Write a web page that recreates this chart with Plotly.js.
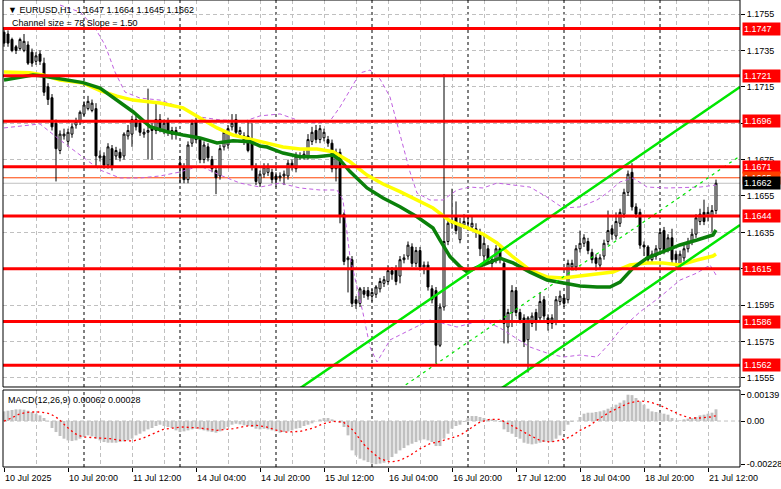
<!DOCTYPE html>
<html><head><meta charset="utf-8">
<script src="https://cdn.plot.ly/plotly-3.0.1.min.js"></script>
<style>html,body{margin:0;padding:0;background:#fff;}#chart{width:781px;height:489px;}</style>
</head><body><div id="chart"></div>
<script>
// ---- time axis ----
const tickBars = [0,16,32,48,64,80,96,112,128,144,160,176];
const tickText = ["10 Jul 2025","10 Jul 20:00","11 Jul 12:00","14 Jul 04:00","14 Jul 20:00","15 Jul 12:00","16 Jul 04:00","16 Jul 20:00","17 Jul 12:00","18 Jul 04:00","18 Jul 20:00","21 Jul 12:00"];
const gridBars = [8,24,40,56,72,88,104,120,136,152,168,184];
const daySeparators = [20,44,68,92,116,140,164];

// ---- EURUSD H1 candles ----
const open = [1.1745,1.1744,1.1741,1.1737,1.1736,1.1735,1.1738,1.1734,1.1729,1.1733,
1.1728,1.1715,1.1709,1.1695,1.1680,1.1688,1.1685,1.1689,1.1694,1.1696,
1.1700,1.1703,1.1702,1.1703,1.1676,1.1677,1.1672,1.1681,1.1677,1.1679,
1.1677,1.1688,1.1689,1.1697,1.1695,1.1689,1.1690,1.1693,1.1691,1.1697,
1.1691,1.1696,1.1689,1.1689,1.1673,1.1671,1.1664,1.1684,1.1696,1.1686,
1.1675,1.1682,1.1675,1.1669,1.1666,1.1682,1.1683,1.1693,1.1697,1.1689,
1.1688,1.1688,1.1685,1.1671,1.1662,1.1667,1.1668,1.1668,1.1666,1.1665,
1.1666,1.1666,1.1673,1.1670,1.1677,1.1677,1.1677,1.1685,1.1691,1.1686,
1.1687,1.1686,1.1684,1.1670,1.1679,1.1645,1.1620,1.1620,1.1598,1.1596,
1.1603,1.1603,1.1600,1.1601,1.1604,1.1607,1.1608,1.1614,1.1615,1.1611,
1.1620,1.1622,1.1627,1.1618,1.1625,1.1616,1.1617,1.1604,1.1603,1.1573,
1.1594,1.1630,1.1640,1.1644,1.1631,1.1639,1.1640,1.1638,1.1637,1.1635,
1.1622,1.1626,1.1618,1.1620,1.1626,1.1618,1.1583,1.1591,1.1603,1.1591,
1.1588,1.1576,1.1585,1.1591,1.1588,1.1598,1.1588,1.1585,1.1586,1.1597,
1.1599,1.1598,1.1616,1.1616,1.1626,1.1629,1.1630,1.1624,1.1621,1.1617,
1.1622,1.1630,1.1637,1.1633,1.1640,1.1645,1.1657,1.1668,1.1649,1.1646,
1.1628,1.1627,1.1620,1.1622,1.1626,1.1636,1.1626,1.1632,1.1623,1.1617,
1.1621,1.1626,1.1630,1.1634,1.1641,1.1646,1.1644,1.1644,1.1647];
const high = [1.1747,1.1746,1.1742,1.1738,1.1742,1.1744,1.1740,1.1736,1.1734,1.1735,
1.1731,1.1717,1.1711,1.1697,1.1691,1.1692,1.1692,1.1695,1.1698,1.1702,
1.1707,1.1710,1.1708,1.1706,1.1680,1.1679,1.1684,1.1683,1.1682,1.1681,
1.1690,1.1694,1.1699,1.1699,1.1696,1.1692,1.1714,1.1695,1.1706,1.1700,
1.1697,1.1698,1.1693,1.1693,1.1677,1.1673,1.1685,1.1697,1.1698,1.1687,
1.1685,1.1684,1.1677,1.1671,1.1683,1.1691,1.1694,1.1700,1.1700,1.1693,
1.1690,1.1696,1.1695,1.1673,1.1669,1.1673,1.1673,1.1670,1.1668,1.1668,
1.1669,1.1675,1.1675,1.1679,1.1679,1.1680,1.1689,1.1693,1.1694,1.1694,
1.1692,1.1688,1.1686,1.1681,1.1681,1.1646,1.1622,1.1622,1.1600,1.1605,
1.1605,1.1605,1.1604,1.1606,1.1610,1.1611,1.1617,1.1616,1.1617,1.1622,
1.1623,1.1630,1.1629,1.1627,1.1627,1.1619,1.1619,1.1606,1.1605,1.1596,
1.1722,1.1642,1.1659,1.1652,1.1643,1.1645,1.1644,1.1644,1.1640,1.1637,
1.1634,1.1628,1.1622,1.1628,1.1628,1.1620,1.1593,1.1606,1.1605,1.1593,
1.1590,1.1589,1.1591,1.1593,1.1602,1.1600,1.1590,1.1590,1.1600,1.1603,
1.1601,1.1620,1.1620,1.1628,1.1636,1.1634,1.1632,1.1626,1.1623,1.1623,
1.1631,1.1647,1.1639,1.1646,1.1648,1.1659,1.1669,1.1673,1.1651,1.1648,
1.1630,1.1628,1.1625,1.1628,1.1637,1.1638,1.1634,1.1637,1.1625,1.1625,
1.1628,1.1632,1.1637,1.1645,1.1648,1.1653,1.1649,1.1650,1.1664];
const low = [1.1737,1.1737,1.1734,1.1733,1.1735,1.1734,1.1727,1.1726,1.1727,1.1727,
1.1710,1.1705,1.1691,1.1663,1.1678,1.1686,1.1682,1.1687,1.1692,1.1694,
1.1699,1.1702,1.1701,1.1671,1.1674,1.1670,1.1670,1.1669,1.1675,1.1674,
1.1675,1.1686,1.1682,1.1691,1.1688,1.1687,1.1675,1.1675,1.1689,1.1690,
1.1689,1.1688,1.1686,1.1686,1.1662,1.1662,1.1662,1.1682,1.1684,1.1673,
1.1673,1.1674,1.1668,1.1656,1.1664,1.1680,1.1681,1.1691,1.1688,1.1687,
1.1683,1.1679,1.1669,1.1661,1.1660,1.1665,1.1666,1.1662,1.1660,1.1663,
1.1661,1.1664,1.1669,1.1668,1.1675,1.1675,1.1675,1.1683,1.1684,1.1684,
1.1685,1.1682,1.1668,1.1663,1.1640,1.1617,1.1602,1.1594,1.1593,1.1594,
1.1599,1.1598,1.1597,1.1599,1.1602,1.1605,1.1606,1.1609,1.1606,1.1607,
1.1618,1.1620,1.1616,1.1616,1.1614,1.1612,1.1603,1.1596,1.1563,1.1572,
1.1592,1.1628,1.1637,1.1634,1.1629,1.1637,1.1637,1.1636,1.1632,1.1622,
1.1617,1.1618,1.1615,1.1618,1.1618,1.1574,1.1574,1.1583,1.1589,1.1585,
1.1572,1.1558,1.1583,1.1581,1.1586,1.1587,1.1581,1.1582,1.1584,1.1595,
1.1594,1.1596,1.1614,1.1614,1.1624,1.1627,1.1623,1.1618,1.1614,1.1615,
1.1620,1.1628,1.1631,1.1631,1.1638,1.1643,1.1655,1.1647,1.1643,1.1626,
1.1622,1.1618,1.1618,1.1620,1.1624,1.1623,1.1624,1.1618,1.1616,1.1615,
1.1619,1.1624,1.1628,1.1632,1.1639,1.1639,1.1641,1.1635,1.1645];
const close = [1.1739,1.1739,1.1735,1.1735,1.1741,1.1740,1.1728,1.1728,1.1732,1.1729,
1.1712,1.1708,1.1693,1.1681,1.1689,1.1689,1.1690,1.1693,1.1696,1.1701,
1.1705,1.1707,1.1706,1.1677,1.1677,1.1672,1.1682,1.1671,1.1680,1.1676,
1.1689,1.1691,1.1697,1.1693,1.1690,1.1690,1.1691,1.1691,1.1697,1.1692,
1.1695,1.1690,1.1691,1.1691,1.1671,1.1664,1.1683,1.1695,1.1686,1.1675,
1.1683,1.1676,1.1670,1.1665,1.1681,1.1690,1.1692,1.1695,1.1690,1.1691,
1.1685,1.1680,1.1671,1.1663,1.1667,1.1671,1.1671,1.1664,1.1664,1.1666,
1.1667,1.1673,1.1671,1.1677,1.1677,1.1678,1.1686,1.1690,1.1686,1.1692,
1.1690,1.1684,1.1670,1.1679,1.1644,1.1619,1.1621,1.1596,1.1596,1.1604,
1.1601,1.1600,1.1602,1.1605,1.1608,1.1609,1.1614,1.1612,1.1608,1.1620,
1.1621,1.1628,1.1618,1.1625,1.1616,1.1617,1.1605,1.1598,1.1573,1.1594,
1.1630,1.1640,1.1641,1.1636,1.1640,1.1641,1.1640,1.1640,1.1635,1.1626,
1.1629,1.1620,1.1620,1.1626,1.1620,1.1585,1.1591,1.1603,1.1591,1.1587,
1.1575,1.1588,1.1589,1.1586,1.1597,1.1589,1.1585,1.1588,1.1598,1.1600,
1.1596,1.1618,1.1618,1.1626,1.1629,1.1632,1.1625,1.1620,1.1618,1.1621,
1.1629,1.1636,1.1634,1.1641,1.1646,1.1657,1.1667,1.1649,1.1645,1.1628,
1.1627,1.1620,1.1623,1.1626,1.1635,1.1625,1.1632,1.1620,1.1620,1.1623,
1.1626,1.1630,1.1634,1.1643,1.1645,1.1641,1.1646,1.1647,1.1662];

// ---- moving averages ----
const maYellowX = [0,6.5,9.75,14,19.75,24,28.25,32.25,39,44.75,49,53.25,57.25,61.5,65.75,69.75,74,78.25,82.25,86.5,90.75,94.75,99,103.25,107.25,111.5,115.75,119.75,123.25,127.25,131.5,135.75,139.75,144,148.25,152.25,156.5,160.75,164.75,169,173.25,177.25,178];
const maYellowY = [1.17231,1.17227,1.17215,1.17187,1.17171,1.17129,1.17099,1.17077,1.17061,1.17034,1.16979,1.16924,1.16885,1.16863,1.16841,1.16819,1.16808,1.16808,1.16793,1.16738,1.16665,1.16616,1.16574,1.16528,1.16484,1.16413,1.16374,1.16341,1.16292,1.16215,1.16143,1.16105,1.16099,1.16110,1.16121,1.16132,1.16171,1.16182,1.16182,1.16171,1.16198,1.16220,1.16231];
const maGreenX = [0,4,7.25,9.75,14,19.75,24,28.25,32.25,36.5,40.75,44.75,49,53.25,57.25,61.5,64,65.75,69.75,74,78.25,82.25,84,86.5,90.75,94.75,99,103.25,107.25,109,111.5,114,115.75,119.75,124,127.25,131.5,135.75,139.75,144,148.25,151.5,154,157.25,160.75,164.75,169,173.25,177.25,178];
const maGreenY = [1.17187,1.17204,1.17215,1.17209,1.17193,1.17173,1.17143,1.17077,1.17013,1.16931,1.16903,1.16885,1.16869,1.16841,1.16854,1.16848,1.16825,1.16819,1.16786,1.16766,1.16766,1.16775,1.16748,1.16684,1.16594,1.16539,1.16491,1.16436,1.16374,1.16308,1.16217,1.16162,1.16134,1.16171,1.16209,1.16182,1.16132,1.16088,1.16072,1.16055,1.16050,1.16050,1.16077,1.16154,1.16209,1.16242,1.16281,1.16308,1.16336,1.16363];

// ---- bands ----
const bandUpX = [14,19,22.75,25.25,27.75,30.25,34,39,44,49,54,60.25,64,69,74,78.25,81.5,84,86.5,89,91.5,94,96.5,98.25,99.75,101.5,103.25,106.5,109.75,113.25,116.5,119.75,123.25,127.25,131.5,135.75,139.75,144,148.25,150.75,154,157.25,160.75,165.75,170.75,174,178];
const bandUpY = [1.17599,1.17561,1.17473,1.17380,1.17231,1.17121,1.17088,1.17077,1.17039,1.16984,1.16968,1.16962,1.16990,1.17001,1.16962,1.16951,1.16962,1.17039,1.17132,1.17226,1.17242,1.17193,1.17094,1.16951,1.16819,1.16682,1.16566,1.16528,1.16528,1.16583,1.16599,1.16594,1.16621,1.16610,1.16599,1.16544,1.16484,1.16490,1.16528,1.16566,1.16627,1.16649,1.16599,1.16594,1.16599,1.16599,1.16610];
const bandLoX = [0,9,14,19,24,29,34,39,44,49,54,59,64,69,74,79,83.25,84.75,85.75,86.5,88.25,89.75,91.5,93.25,96.5,101.5,106.5,113.25,119.75,124,131.5,135.75,139.75,144,148.25,151.5,154,159,164,169,173.25,176.5,178];
const bandLoY = [1.16924,1.16946,1.16858,1.16775,1.16693,1.16649,1.16649,1.16660,1.16682,1.16715,1.16665,1.16621,1.16599,1.16621,1.16594,1.16583,1.16583,1.16528,1.16347,1.16215,1.16050,1.15907,1.15720,1.15638,1.15759,1.15814,1.15869,1.15830,1.15869,1.15825,1.15720,1.15687,1.15665,1.15676,1.15665,1.15742,1.15814,1.15913,1.15995,1.16088,1.16127,1.16171,1.16116];

// ---- regression channel ----
const chanX = [60,184];
const chanUpper = [1.15283,1.17149];
const chanMiddle = [1.14904,1.16770];
const chanLower = [1.14525,1.16391];

// ---- horizontal levels ----
const levels = [1.1747,1.1721,1.1696,1.1671,1.1644,1.1615,1.1586,1.1562];
const askLevel = 1.1665;
const bidLevel = 1.1662;
const priceTicks = [1.1555,1.1575,1.1595,1.1615,1.1635,1.1655,1.1675,1.1695,1.1715,1.1735,1.1755];
const priceTickText = ["1.1555","1.1575","1.1595","","1.1635","1.1655","1.1675","","1.1715","1.1735","1.1755"];

// ---- MACD(12,26,9) ----
const macdMain = [0.000511,0.000546,0.000582,0.000617,0.000617,0.000599,0.000546,0.000476,0.000388,0.000300,
0.000159,-0.000018,-0.000370,-0.000582,-0.000793,-0.000934,-0.001022,-0.001058,-0.001022,-0.000934,
-0.000846,-0.000758,-0.000811,-0.000934,-0.001022,-0.001111,-0.001146,-0.001146,-0.001146,-0.001111,
-0.001075,-0.001022,-0.000934,-0.000758,-0.000670,-0.000546,-0.000441,-0.000370,-0.000264,-0.000194,
-0.000264,-0.000317,-0.000370,-0.000494,-0.000582,-0.000546,-0.000494,-0.000441,-0.000405,-0.000441,
-0.000494,-0.000546,-0.000582,-0.000617,-0.000546,-0.000441,-0.000317,-0.000194,-0.000141,-0.000176,
-0.000229,-0.000264,-0.000317,-0.000405,-0.000441,-0.000405,-0.000441,-0.000494,-0.000546,-0.000617,
-0.000582,-0.000546,-0.000494,-0.000405,-0.000370,-0.000264,-0.000194,-0.000123,-0.000018,0.000088,
0.000159,0.000159,0.000088,0.000005,-0.000088,-0.000317,-0.000758,-0.001551,-0.001816,-0.001992,
-0.002080,-0.002168,-0.00225,-0.00228,-0.00225,-0.002203,-0.002080,-0.001904,-0.001727,-0.001551,
-0.001428,-0.001287,-0.001199,-0.001111,-0.001022,-0.000969,-0.001022,-0.001111,-0.001322,-0.001322,
-0.000934,-0.000670,-0.000405,-0.000264,-0.000194,-0.000053,0.000159,0.000264,0.000264,0.000212,
0.000159,0.000088,0.000088,0.000035,-0.000053,-0.000441,-0.000582,-0.000670,-0.000846,-0.000934,
-0.001146,-0.001199,-0.001234,-0.001199,-0.001146,-0.001111,-0.001075,-0.001111,-0.000934,-0.000758,
-0.000494,-0.000194,-0.000053,0.000005,0.000212,0.000388,0.000441,0.000441,0.000476,0.000511,
0.000564,0.000652,0.000740,0.000864,0.000969,0.001093,0.00139,0.00137,0.001216,0.001040,
0.000864,0.000652,0.000511,0.000476,0.000441,0.000388,0.000335,0.000159,0.000005,0.000035,
0.000088,0.000123,0.000159,0.000212,0.000300,0.000335,0.000388,0.000441,0.00062];
const sigX = [0,1.5,4,6.5,9,11.5,13.6,15.7,17.75,19.8,24,26.5,29,32.3,34.8,37.3,39.8,42.3,44.8,49,53.2,57.3,60.7,63.2,65.7,68.2,70.7,74,77.3,79.8,82.3,84.8,87.3,89.8,91.5,94,96.5,99,101.5,104,106.5,109,111.5,114,116.5,119,121.5,124,126.5,129,131.5,134,136.5,139,141.5,144,146.5,149,151.5,154,156.5,159,161.5,164,166.5,169,171.5,174,176.5,178];
const sigY = [0,0.000123,0.000388,0.000476,0.000476,0.000388,0.000123,-0.000317,-0.000670,-0.000846,-0.000899,-0.000934,-0.001022,-0.001058,-0.000899,-0.000670,-0.000441,-0.000370,-0.000317,-0.000370,-0.000494,-0.000405,-0.000264,-0.000229,-0.000317,-0.000494,-0.000582,-0.000546,-0.000370,-0.000141,-0.000018,-0.000053,-0.000494,-0.001199,-0.001551,-0.001992,-0.002168,-0.002080,-0.001816,-0.001463,-0.001199,-0.001075,-0.000934,-0.000758,-0.000405,-0.000053,0.000088,0.000088,-0.000194,-0.000494,-0.000758,-0.001022,-0.001111,-0.001022,-0.000846,-0.000494,-0.000229,0.000159,0.000476,0.000740,0.000969,0.001058,0.001005,0.000828,0.000564,0.000335,0.000159,0.000159,0.000212,0.00028];
const macdTicks = [0.00139,0,-0.00228];
const macdTickText = ["0.00139","0.00","-0.00228"];

// ---- drawing ----
const bars = open.map((_, i) => i);
const FONT = 'Liberation Sans, Arial, sans-serif';
const px = x => (x - 3) / 737;
const py = y => (467 - y) / 467;
const MAIN_DOM = [0.17131, 1];
const MACD_DOM = [0, 0.16488];

const traces = [
  {type:'scatter', mode:'lines', x:bandUpX, y:bandUpY, line:{color:'#c060e0', width:1, dash:'4px,3px'}, hoverinfo:'skip'},
  {type:'scatter', mode:'lines', x:bandLoX, y:bandLoY, line:{color:'#c060e0', width:1, dash:'4px,3px'}, hoverinfo:'skip'},
  {type:'candlestick', x:bars, open:open, high:high, low:low, close:close,
   increasing:{line:{color:'#000', width:1}, fillcolor:'#ffffff'},
   decreasing:{line:{color:'#000', width:1}, fillcolor:'#000000'},
   whiskerwidth:0, hoverinfo:'skip'},
  {type:'scatter', mode:'lines', x:maYellowX, y:maYellowY, line:{color:'#ffff00', width:3.5}, hoverinfo:'skip'},
  {type:'scatter', mode:'lines', x:maGreenX, y:maGreenY, line:{color:'#0a800a', width:3.5}, hoverinfo:'skip'},
  {type:'scatter', mode:'lines', x:chanX, y:chanUpper, line:{color:'#00e600', width:2.5}, hoverinfo:'skip'},
  {type:'scatter', mode:'lines', x:chanX, y:chanLower, line:{color:'#00e600', width:2.5}, hoverinfo:'skip'},
  {type:'scatter', mode:'lines', x:chanX, y:chanMiddle, line:{color:'#00e600', width:1.2, dash:'3px,4px'}, hoverinfo:'skip'},
  {type:'bar', x:bars, y:macdMain, yaxis:'y2', marker:{color:'#c0c0c0', line:{width:0}}, width:0.72, hoverinfo:'skip'},
  {type:'scatter', mode:'lines', x:sigX, y:sigY, yaxis:'y2', line:{color:'#ff0000', width:1.3, dash:'2px,3px'}, hoverinfo:'skip'}
];

const shapes = [];
daySeparators.forEach(d => {
  shapes.push({type:'line', xref:'x', yref:'paper', x0:d, x1:d, y0:MAIN_DOM[0], y1:1, layer:'between', line:{color:'#000', width:1, dash:'3px,3px'}});
  shapes.push({type:'line', xref:'x', yref:'paper', x0:d, x1:d, y0:0, y1:MACD_DOM[1], layer:'between', line:{color:'#000', width:1, dash:'3px,3px'}});
});
shapes.push({type:'line', xref:'paper', yref:'y2', x0:0, x1:1, y0:0, y1:0, layer:'between', line:{color:'#c0c0c0', width:1, dash:'4px,3px'}});
shapes.push({type:'line', xref:'paper', yref:'y', x0:0, x1:1, y0:askLevel, y1:askLevel, layer:'between', line:{color:'#ff4000', width:1}});
shapes.push({type:'line', xref:'paper', yref:'y', x0:0, x1:1, y0:bidLevel, y1:bidLevel, layer:'between', line:{color:'#c0c0c0', width:1}});
levels.forEach(l => shapes.push({type:'line', xref:'paper', yref:'y', x0:0, x1:1, y0:l, y1:l, layer:'above', line:{color:'#ff0000', width:3}}));
shapes.push({type:'rect', xref:'paper', yref:'paper', x0:0, x1:1, y0:MAIN_DOM[0], y1:1, layer:'above', line:{color:'#000', width:1}});
shapes.push({type:'rect', xref:'paper', yref:'paper', x0:0, x1:1, y0:0, y1:MACD_DOM[1], layer:'above', line:{color:'#000', width:1}});

const annotations = [];
const lab = (txt, bg, y) => ({xref:'paper', x:1, xanchor:'left', xshift:2, yref:'y', y:y, yanchor:'middle',
  text:txt, showarrow:false, bgcolor:bg, borderpad:1, width:35, align:'left', font:{family:FONT, size:9, color:'#fff'}});
levels.forEach(l => annotations.push(lab(l.toFixed(4), '#ff0000', l)));
annotations.push(lab(askLevel.toFixed(4), '#ff4000', askLevel));
annotations.push(lab(bidLevel.toFixed(4), '#000000', bidLevel));
tickBars.forEach((b, k) => annotations.push({xref:'x', x:b, xanchor:'left', xshift:-1, yref:'paper', y:py(478), yanchor:'middle',
  text:tickText[k], showarrow:false, font:{family:FONT, size:9, color:'#000'}}));
annotations.push({xref:'paper', x:px(6), xanchor:'left', yref:'paper', y:py(10), yanchor:'middle', showarrow:false,
  text:'\u25BC\u00a0EURUSD,H1\u00a0\u00a01.1647\u00a01.1664\u00a01.1645\u00a01.1662', font:{family:FONT, size:9, color:'#000'}});
annotations.push({xref:'paper', x:px(10), xanchor:'left', yref:'paper', y:py(23), yanchor:'middle', showarrow:false,
  text:'Channel size = 78 Slope = 1.50', font:{family:FONT, size:9, color:'#000'}});
annotations.push({xref:'paper', x:px(6), xanchor:'left', yref:'paper', y:py(400), yanchor:'middle', showarrow:false,
  text:'MACD(12,26,9) 0.00062 0.00028', font:{family:FONT, size:9, color:'#000'}});

const layout = {
  width:781, height:489,
  margin:{l:3, r:41, t:0, b:22, pad:0},
  paper_bgcolor:'#ffffff', plot_bgcolor:'#ffffff',
  showlegend:false,
  font:{family:FONT, size:9, color:'#000'},
  xaxis:{range:[-0.25,184], anchor:'y2', tickmode:'array', tickvals:tickBars, ticktext:tickBars.map(()=>''),
    ticks:'outside', ticklen:4, tickcolor:'#000', showgrid:true, gridcolor:'#c0c0c0', gridwidth:1, griddash:'4px,3px',
    minor:{tickmode:'array', tickvals:gridBars, showgrid:true, gridcolor:'#c0c0c0', gridwidth:1, griddash:'4px,3px', ticks:''},
    zeroline:false, showline:false, rangeslider:{visible:false}, fixedrange:true},
  yaxis:{domain:MAIN_DOM, range:[1.155005,1.176269], side:'right', anchor:'x', tickmode:'array', tickvals:priceTicks,
    ticktext:priceTickText, ticks:'outside', ticklen:4, tickcolor:'#000', showgrid:true, gridcolor:'#c0c0c0',
    gridwidth:1, griddash:'4px,3px', zeroline:false, showline:false, fixedrange:true, tickfont:{family:FONT, size:9, color:'#000'}},
  yaxis2:{domain:MACD_DOM, range:[-0.00243,0.00164], side:'right', anchor:'x', tickmode:'array', tickvals:macdTicks,
    ticktext:macdTickText, ticks:'outside', ticklen:4, tickcolor:'#000', showgrid:false, zeroline:false, showline:false,
    fixedrange:true, tickfont:{family:FONT, size:9, color:'#000'}},
  shapes:shapes, annotations:annotations, hovermode:false
};
Plotly.newPlot('chart', traces, layout, {staticPlot:true, displayModeBar:false});
</script>
</body></html>
